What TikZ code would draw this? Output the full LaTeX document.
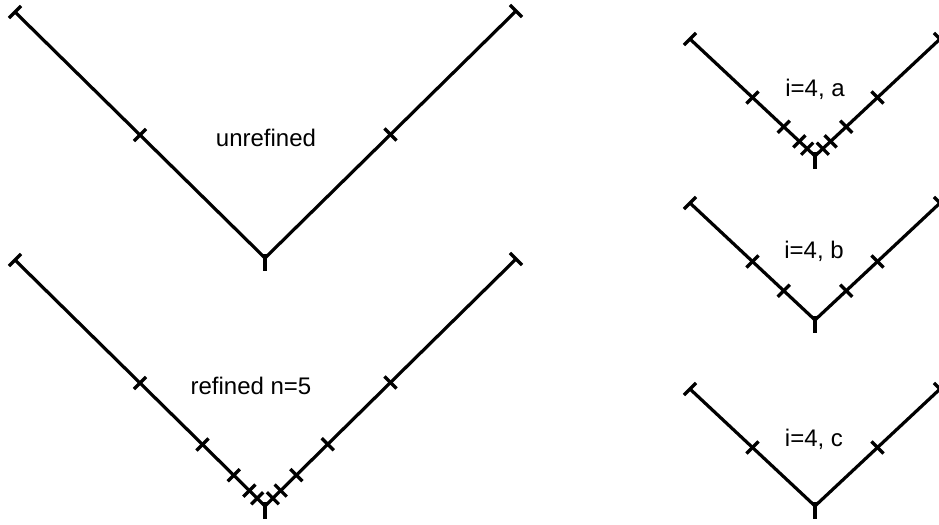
\documentclass[tikz,border=0pt]{standalone}
\usepackage{fontspec}
\setmainfont{Liberation Sans}
\usetikzlibrary{calc}
\begin{document}
\begin{tikzpicture}[x=0.5pt,y=-0.5pt,
  tick/.style={rectangle, minimum width=0pt, minimum height=8.5pt, inner sep=0pt, outer sep=0pt},
  ltick/.style={tick, rotate=-45},
  rtick/.style={tick, rotate=45},
  vtick/.style={tick, minimum height=8.5pt},
  tickline/.style={line width=1.6pt},
  arm/.style={line width=1.6pt},
  lbl/.style={font=\fontsize{12pt}{14pt}\selectfont, inner sep=0pt, anchor=base}]
\useasboundingbox (0,0) rectangle (939,525);
% top-left: unrefined
\node[ltick] (A0) at (15,12) {};
\coordinate (AV) at (265,258);
\node[vtick] (AVt) at (265,262) {};
\node[rtick] (A1) at (516,11) {};
\draw[arm] (A0.center) -- (AV) -- (A1.center);
\node[ltick] (Al1) at ($(A0.center)!0.5!(AV)$) {};
\node[rtick] (Ar1) at ($(A1.center)!0.5!(AV)$) {};
\foreach \n in {A0,AVt,A1,Al1,Ar1} \draw[tickline] (\n.north) -- (\n.south);
\node[lbl] (Alab) at (266,146) {unrefined};
% bottom-left: refined n=5
\node[ltick] (B0) at (15,260) {};
\coordinate (BV) at (265,506);
\node[vtick] (BVt) at (265,510) {};
\node[rtick] (B1) at (516,259) {};
\draw[arm] (B0.center) -- (BV) -- (B1.center);
\foreach \t [count=\k] in {0.5,0.75,0.875,0.9375,0.96875} {
  \node[ltick] (Bl\k) at ($(B0.center)!\t!(BV)$) {};
  \node[rtick] (Br\k) at ($(B1.center)!\t!(BV)$) {};
  \draw[tickline] (Bl\k.north) -- (Bl\k.south);
  \draw[tickline] (Br\k.north) -- (Br\k.south);
}
\foreach \n in {B0,BVt,B1} \draw[tickline] (\n.north) -- (\n.south);
\node[lbl] (Blab) at (251,394) {refined n=5};
% right: i=4, a
\node[ltick] (C0) at (690,39) {};
\coordinate (CV) at (815,156);
\node[vtick] (CVt) at (815,160) {};
\node[rtick] (C1) at (940,39) {};
\draw[arm] (C0.center) -- (CV) -- (C1.center);
\foreach \t [count=\k] in {0.5,0.75,0.875,0.9375} {
  \node[ltick] (Cl\k) at ($(C0.center)!\t!(CV)$) {};
  \node[rtick] (Cr\k) at ($(C1.center)!\t!(CV)$) {};
  \draw[tickline] (Cl\k.north) -- (Cl\k.south);
  \draw[tickline] (Cr\k.north) -- (Cr\k.south);
}
\foreach \n in {C0,CVt,C1} \draw[tickline] (\n.north) -- (\n.south);
\node[lbl] (Clab) at (815,96) {i=4, a};
% right: i=4, b
\node[ltick] (D0) at (690,203) {};
\coordinate (DV) at (815,320);
\node[vtick] (DVt) at (815,324) {};
\node[rtick] (D1) at (940,203) {};
\draw[arm] (D0.center) -- (DV) -- (D1.center);
\foreach \t [count=\k] in {0.5,0.75} {
  \node[ltick] (Dl\k) at ($(D0.center)!\t!(DV)$) {};
  \node[rtick] (Dr\k) at ($(D1.center)!\t!(DV)$) {};
  \draw[tickline] (Dl\k.north) -- (Dl\k.south);
  \draw[tickline] (Dr\k.north) -- (Dr\k.south);
}
\foreach \n in {D0,DVt,D1} \draw[tickline] (\n.north) -- (\n.south);
\node[lbl] (Dlab) at (814,258) {i=4, b};
% right: i=4, c
\node[ltick] (E0) at (690,389) {};
\coordinate (EV) at (815,506);
\node[vtick] (EVt) at (815,510) {};
\node[rtick] (E1) at (940,389) {};
\draw[arm] (E0.center) -- (EV) -- (E1.center);
\node[ltick] (El1) at ($(E0.center)!0.5!(EV)$) {};
\node[rtick] (Er1) at ($(E1.center)!0.5!(EV)$) {};
\foreach \n in {E0,EVt,E1,El1,Er1} \draw[tickline] (\n.north) -- (\n.south);
\node[lbl] (Elab) at (814,446) {i=4, c};
\end{tikzpicture}
\end{document}
